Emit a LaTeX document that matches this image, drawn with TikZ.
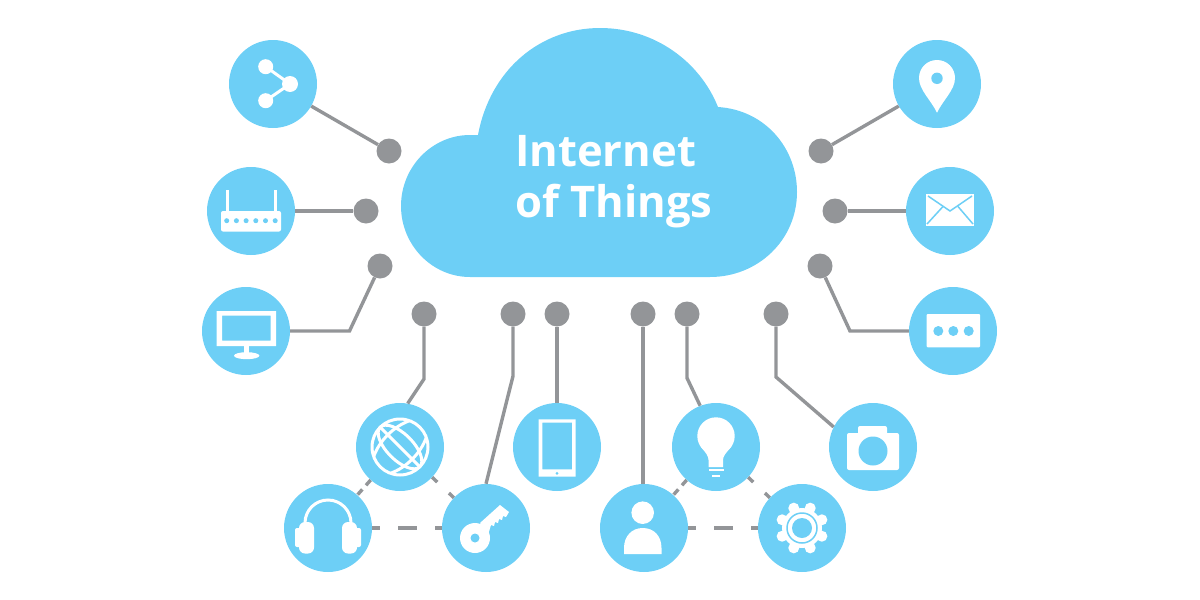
\documentclass[tikz,border=0pt]{standalone}
\usepackage{fontspec}
\setmainfont{Open Sans}
\usepackage{tikz}
\usetikzlibrary{calc}
\definecolor{skyblue}{HTML}{6DCFF6}
\definecolor{linkgray}{HTML}{939598}

\begin{document}
\begin{tikzpicture}[
    x=1pt, y=-1pt,
    hub/.style={circle, fill=skyblue, minimum size=88pt, inner sep=0pt},
    dot/.style={circle, fill=linkgray, minimum size=25pt, inner sep=0pt},
    link/.style={draw=linkgray, line width=3.4pt, line join=miter},
    meshlong/.style={link, dash pattern=on 19pt off 18pt, dash phase=11pt},
    meshshort/.style={link, dash pattern=on 7pt off 5.5pt},
    meshwide/.style={link, dash pattern=on 7pt off 16pt},
    icon/.style={fill=white},
    iconline/.style={draw=white, line width=3pt},
    cut/.style={fill=skyblue},
    cutline/.style={draw=skyblue, line width=1.5pt}
]
\useasboundingbox (0,0) rectangle (1200,600);

% Cloud
\fill[skyblue] (478,135) .. controls (490,70) and (540,28) .. (600,28)
    .. controls (655,28) and (700,62) .. (718,107)
    .. controls (765,110) and (797,148) .. (797,192)
    .. controls (797,240) and (758,277) .. (710,277)
    -- (470,277)
    .. controls (432,277) and (401,245) .. (401,206)
    .. controls (401,167) and (432,135) .. (470,135) -- cycle;
\node[align=left, anchor=west, text=white, inner sep=0pt,
      font=\fontsize{43.6}{51}\selectfont\bfseries] (title) at (515,182) {Internet\\of Things};

% Hubs
\node[hub] (share) at (273,84) {};
\node[hub] (router) at (251,211) {};
\node[hub] (monitor) at (246,331) {};
\node[hub] (globe) at (400,447) {};
\node[hub] (phones) at (328,528) {};
\node[hub] (key) at (486,528) {};
\node[hub] (tablet) at (557,447) {};
\node[hub] (person) at (644,528) {};
\node[hub] (bulb) at (716,447) {};
\node[hub] (gear) at (802,528) {};
\node[hub] (camera) at (873,447) {};
\node[hub] (pin) at (937,84) {};
\node[hub] (mail) at (950,211) {};
\node[hub] (chat) at (953,331) {};

% End dots
\node[dot] (dshare) at (389,151) {};
\node[dot] (drouter) at (366,211) {};
\node[dot] (dmonitor) at (380,266) {};
\node[dot] (dglobe) at (424,314) {};
\node[dot] (dkey) at (513,314) {};
\node[dot] (dtablet) at (557,314) {};
\node[dot] (dperson) at (643,314) {};
\node[dot] (dbulb) at (687,314) {};
\node[dot] (dcamera) at (776,314) {};
\node[dot] (dpin) at (821,151) {};
\node[dot] (dmail) at (835,211) {};
\node[dot] (dchat) at (820,266) {};

% Bends
\coordinate (bmonitor) at (349.5,331);
\coordinate (bglobe) at (424,379);
\coordinate (bkey) at (513,376);
\coordinate (bbulb) at (687,378);
\coordinate (bcamera) at (776,377);
\coordinate (bchat) at (850,331);

% Connectors
\draw[link] (share) -- (dshare);
\draw[link] (router) -- (drouter);
\draw[link] (monitor) -- (bmonitor) -- (dmonitor);
\draw[link] (globe.80) -- (bglobe) -- (dglobe);
\draw[link] (key.north) -- (bkey) -- (dkey);
\draw[link] (tablet) -- (dtablet);
\draw[link] (person.north -| dperson) -- (dperson);
\draw[link] (bulb.111) -- (bbulb) -- (dbulb);
\draw[link] (camera.153) -- (bcamera) -- (dcamera);
\draw[link] (pin) -- (dpin);
\draw[link] (mail) -- (dmail);
\draw[link] (chat) -- (bchat) -- (dchat);

% Dashed mesh
\draw[meshlong] (phones) -- (key);
\draw[meshshort] (globe) -- (phones);
\draw[meshwide] (globe) -- (key);
\draw[meshlong] (person) -- (gear);
\draw[meshshort] (bulb) -- (person);
\draw[meshwide] (bulb) -- (gear);

% Icon: share
\begin{scope}[shift={(share)}]
\draw[iconline] (-7.3,-17.3) -- (17,0) -- (-7.3,16.7);
\fill[icon] (-7.3,-17.3) circle[radius=7.5] (17,0) circle[radius=8] (-7.3,16.7) circle[radius=7.5];
\end{scope}

% Icon: router
\begin{scope}[shift={(router)}]
\draw[iconline] (-24,2) -- (-24,-21) (24,2) -- (24,-21);
\fill[icon, rounded corners=2pt] (-30,0) rectangle (30,20.5);
\foreach \i in {0,...,5}
    \fill[cut] (-24.3+\i*9.7,9.7) circle[radius=2.5];
\end{scope}

% Icon: monitor
\begin{scope}[shift={(monitor)}]
\fill[icon, even odd rule] (-29.3,-20) rectangle (30,15) (-24,-15.3) rectangle (24.7,9.7);
\fill[icon] (-2.5,15) rectangle (3.3,22);
\fill[icon] (0.7,24.7) ellipse[x radius=12.7, y radius=3.5];
\end{scope}

% Icon: globe
\begin{scope}[shift={(globe)}]
\draw[iconline] (0,0) circle[radius=28];
\begin{scope}[rotate=-45]
\draw[iconline] (-27,0) -- (27,0);
\draw[iconline] (0,0) ellipse[x radius=28, y radius=13];
\draw[iconline] (12,-25) .. controls (19,-10) and (19,10) .. (12,25);
\draw[iconline] (-12,-25) .. controls (-19,-10) and (-19,10) .. (-12,25);
\end{scope}
\end{scope}

% Icon: headphones
\begin{scope}[shift={(phones)}]
\draw[iconline] (-23,2) -- (-23,-5) arc[start angle=180, end angle=360, radius=23] -- (23,2);
\fill[icon, rounded corners=6pt] (-29,-6) rectangle (-14,25.5);
\fill[icon, rounded corners=6pt] (14,-6) rectangle (29,25.5);
\fill[icon, rounded corners=2pt] (-33,0) rectangle (-27,19);
\fill[icon, rounded corners=2pt] (27,0) rectangle (33,19);
\end{scope}

% Icon: key
\begin{scope}[shift={(key)}]
\fill[icon] (-6,-5) -- (14,-23) -- (23,-16) -- (20,-11) -- (17,-12) -- (16,-8) -- (13,-9)
    -- (12,-5) -- (9,-6) -- (8,-2) -- (5,-3) -- (2,7) -- cycle;
\fill[icon] (-11,10) circle[radius=15];
\fill[cut] (-11,10) circle[radius=4.5];
\end{scope}

% Icon: tablet
\begin{scope}[shift={(tablet)}]
\fill[icon, even odd rule] (-18.3,-27.7) rectangle (18.7,29.7) (-14.7,-24.3) rectangle (15,22.3);
\fill[cut] (0,26.3) circle[radius=1.5];
\end{scope}

% Icon: person
\begin{scope}[shift={(person)}]
\fill[icon] (-1.3,-15.3) circle[radius=11.3];
\fill[icon] (-20,26) -- (-20,20) .. controls (-20,8) and (-12,0) .. (-1.3,0)
    .. controls (10,0) and (17.5,8) .. (17.5,20) -- (17.5,26) -- cycle;
\end{scope}

% Icon: bulb
\begin{scope}[shift={(bulb)}]
\fill[icon] (0,-11) circle[radius=18.7];
\fill[icon] (-15,0) .. controls (-10,6) and (-7.5,9) .. (-7.5,13) -- (-7.5,20) -- (7,20) -- (7,13)
    .. controls (7,9) and (10,6) .. (15,0) -- cycle;
\fill[icon] (-7.5,22) rectangle (7.5,24);
\fill[icon] (-3.7,27.7) rectangle (3.7,30);
\end{scope}

% Icon: gear
\begin{scope}[shift={(gear)}]
\fill[icon] (0,0) circle[radius=20];
\foreach \a in {22.5,67.5,...,337.5}
    \fill[icon] (\a:21.5) circle[radius=5.5];
\draw[cutline] (0,0) circle[radius=15];
\fill[cut] (0,0) circle[radius=10];
\end{scope}

% Icon: camera
\begin{scope}[shift={(camera)}]
\fill[icon, rounded corners=2pt] (-26,-14) rectangle (26,23);
\fill[icon, rounded corners=2pt] (-15,-21) rectangle (14,-10);
\fill[cut] (0,4) circle[radius=14.5];
\end{scope}

% Icon: pin
\begin{scope}[shift={(pin)}]
\fill[icon] (0,28.7) .. controls (-6,16) and (-18,6) .. (-18,-6)
    .. controls (-18,-16) and (-10,-24) .. (0,-24)
    .. controls (10,-24) and (18,-16) .. (18,-6)
    .. controls (18,6) and (6,16) .. (0,28.7) -- cycle;
\fill[cut] (0,-5.7) circle[radius=5.7];
\end{scope}

% Icon: mail
\begin{scope}[shift={(mail)}]
\fill[icon] (-24,-16.7) rectangle (24.3,15);
\draw[cutline] (-22,-15) -- (0,0) -- (22,-15);
\draw[cutline] (-23,13) -- (-7,-4.5) (23,13) -- (8,-4.5);
\end{scope}

% Icon: chat
\begin{scope}[shift={(chat)}]
\fill[icon, rounded corners=1pt] (-26.3,-17) rectangle (27,16.3);
\foreach \i in {-14.7,0.3,15.7}
    \fill[cut] (\i,0) circle[radius=5];
\end{scope}

\end{tikzpicture}
\end{document}
